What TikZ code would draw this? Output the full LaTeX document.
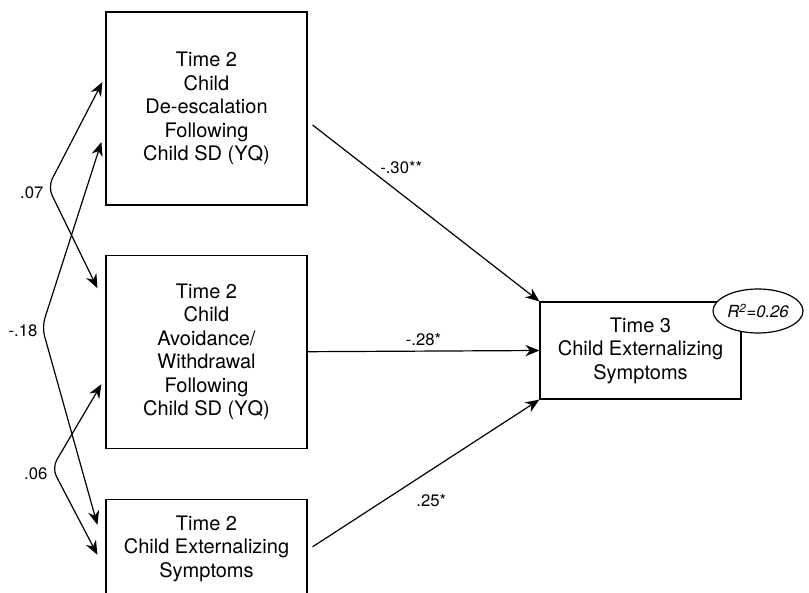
\documentclass[tikz,border=0pt]{standalone}
\usepackage{fontspec}
\setmainfont{TeX Gyre Heros}
\usetikzlibrary{arrows.meta, positioning, calc, shapes.geometric}

\begin{document}
\begin{tikzpicture}[
    x=0.75pt, y=-0.75pt,
    >={Stealth[length=10.5pt,width=8.5pt]},
    every node/.style={align=center}
]
    % Define styles
    \tikzstyle{var} = [rectangle, minimum width=150.75pt, minimum height=144.75pt, draw=black, line width=0.9pt, font=\fontsize{15}{17.6}\selectfont]
    \tikzstyle{boxtext} = [font=\fontsize{15}{17.6}\selectfont]
    \tikzstyle{rsq} = [ellipse, draw=black, fill=white, line width=0.9pt, minimum width=67.5pt, minimum height=33pt, inner sep=0pt, font=\fontsize{12.5}{15}\selectfont\itshape]
    \tikzstyle{lbl} = [font=\fontsize{12.5}{14}\selectfont]
    \tikzstyle{arrow} = [line width=0.9pt, ->]
    \tikzstyle{cov} = [line width=0.9pt, <->, rounded corners=7pt]

    % Frame
    \useasboundingbox (0,0) rectangle (809,592);
    \clip (0,0) rectangle (809,592);

    % Time 2 predictors
    \node [var] (t2a) at (206.5,108.5) {Time 2\\Child\\De-escalation\\Following\\Child SD (YQ)};
    \node [var, below=36.75pt of t2a] (t2b) {Time 2\\Child\\Avoidance/\\Withdrawal\\Following\\Child SD (YQ)};
    \node [var, below=37.5pt of t2b] (t2c) {};
    \node [boxtext] (t2ctext) at ($(t2c.north)+(0,50)$) {Time 2\\Child Externalizing\\Symptoms};

    % Time 3 outcome
    \node [var, minimum height=72.75pt] (t3) at (640.5,350.5) {Time 3\\Child Externalizing\\Symptoms};
    \node [rsq] (r2) at (758,311) {R\textsuperscript{2}=0.26};

    % Covariance end points
    \coordinate (a07) at ($(t2a.west)+(-3,-26.5)$);
    \coordinate (k07) at (48,187);
    \coordinate (b07) at ($(t2b.west)+(-8,-63.5)$);
    \coordinate (a18) at ($(t2a.west)+(-4,33.5)$);
    \coordinate (k18) at (42,327);
    \coordinate (b18) at ($(t2c.north west)+(-8,26)$);
    \coordinate (a06) at ($(t2b.west)+(-4,32.5)$);
    \coordinate (k06) at (52,468);
    \coordinate (b06) at ($(t2c.north west)+(-8,56)$);

    % Covariances
    \draw [cov] (a07) -- (k07) -- (b07);
    \draw [cov] (a18) -- (k18) -- (b18);
    \draw [cov] (a06) -- (k06) -- (b06);
    \node [lbl, left=0pt of k07, yshift=-4pt] (l07) {.07};
    \node [lbl, left=0pt of k18, yshift=-3pt] (l18) {-.18};
    \node [lbl, left=0pt of k06, yshift=-4pt] (l06) {.06};

    % Paths to outcome
    \coordinate (s1) at ($(t2a.east)+(5,16.5)$);
    \coordinate (s3) at ($(t2c.north east)+(5,48)$);
    \draw [arrow] (s1) -- node [lbl, pos=0.29, anchor=south west, inner sep=1pt] {-.30**} (t3.north west);
    \draw [arrow] (t2b.east) -- node [lbl, above] {-.28*} (t3.west);
    \draw [arrow] (s3) -- node [lbl, pos=0.47, xshift=9pt, yshift=-17pt] {.25*} (t3.south west);

\end{tikzpicture}
\end{document}
